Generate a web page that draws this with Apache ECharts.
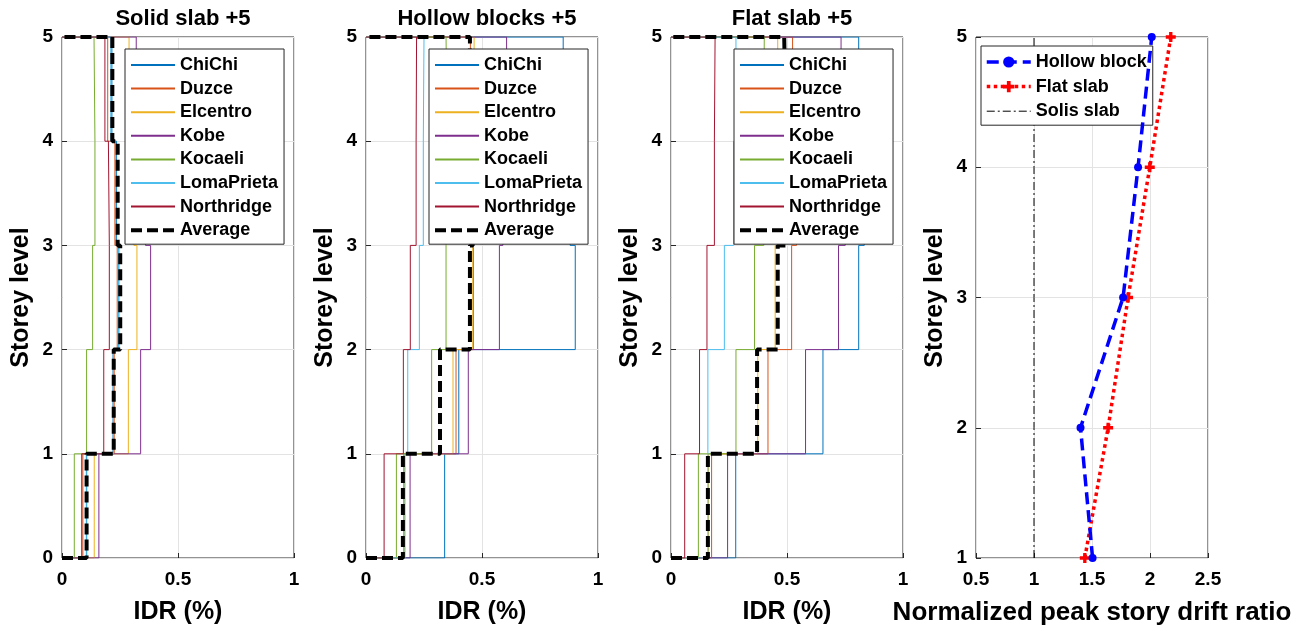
<!DOCTYPE html>
<html>
<head>
<meta charset="utf-8">
<script src="https://cdn.jsdelivr.net/npm/echarts@6/dist/echarts.min.js"></script>
<style>
  html, body { margin: 0; padding: 0; background: #fff; }
  #chart { width: 1312px; height: 631px; }
</style>
</head>
<body>
<div id="chart"></div>
<script>
var dom = document.getElementById("chart");
var myChart = echarts.init(dom);

// peak IDR (%) per storey, storeys 1..5
var records = ['ChiChi', 'Duzce', 'Elcentro', 'Kobe', 'Kocaeli', 'LomaPrieta', 'Northridge'];
var recordColors = ['#0072BD', '#D95319', '#EDB120', '#7E2F8E', '#77AC30', '#4DBEEE', '#A2142F'];
var panelTitles = ['Solid slab +5', 'Hollow blocks +5', 'Flat slab +5'];

var solidIdr = [
    [0.105, 0.220, 0.245, 0.235, 0.215],
    [0.090, 0.225, 0.238, 0.228, 0.197],
    [0.139, 0.286, 0.323, 0.310, 0.289],
    [0.159, 0.339, 0.382, 0.360, 0.320],
    [0.053, 0.106, 0.132, 0.142, 0.138],
    [0.107, 0.222, 0.243, 0.232, 0.210],
    [0.085, 0.180, 0.204, 0.200, 0.185]
];
var solidAverage = [0.106, 0.223, 0.251, 0.240, 0.217];

var hollowIdr = [
    [0.339, 0.400, 0.902, 0.880, 0.850],
    [0.163, 0.388, 0.463, 0.460, 0.450],
    [0.166, 0.375, 0.460, 0.465, 0.466],
    [0.190, 0.441, 0.575, 0.590, 0.606],
    [0.131, 0.283, 0.345, 0.350, 0.345],
    [0.168, 0.180, 0.230, 0.247, 0.250],
    [0.078, 0.161, 0.191, 0.216, 0.218]
];
var hollowAverage = [0.159, 0.319, 0.448, 0.460, 0.448];

var flatIdr = [
    [0.279, 0.655, 0.809, 0.833, 0.809],
    [0.175, 0.418, 0.520, 0.541, 0.524],
    [0.162, 0.374, 0.449, 0.480, 0.460],
    [0.244, 0.580, 0.722, 0.751, 0.733],
    [0.118, 0.280, 0.360, 0.400, 0.402],
    [0.159, 0.159, 0.230, 0.270, 0.280],
    [0.059, 0.123, 0.155, 0.187, 0.190]
];
var flatAverage = [0.159, 0.371, 0.460, 0.496, 0.488];

// normalized peak story drift ratio
var storeyLevels = [1, 2, 3, 4, 5];
var hollowRatio = [1.505, 1.401, 1.768, 1.897, 2.015];
var flatRatio = [1.438, 1.639, 1.811, 1.998, 2.179];
var solidRatio = [1, 1, 1, 1, 1];

var idrTicks = [0, 0.5, 1];
var ratioTicks = [0.5, 1, 1.5, 2, 2.5];

var font = 'Liberation Sans, Arial, sans-serif';
var ink = '#262626';

// stairs: horizontal run at each floor, vertical through each storey
function stairs(vals) {
    var pts = [[0, 0]];
    for (var i = 0; i < vals.length; i++) {
        pts.push([vals[i], i]);
        pts.push([vals[i], i + 1]);
    }
    pts.push([0, vals.length]);
    return pts;
}

var lefts = [62, 366, 671, 976];
var grids = [], xAxes = [], yAxes = [], series = [], titles = [], legends = [];

for (var g = 0; g < 4; g++) {
    grids.push({
        left: lefts[g], width: 232, top: 37, height: 521,
        show: true, borderColor: ink, borderWidth: 1, backgroundColor: '#fff'
    });
    var isRatio = g === 3;
    var tk = isRatio ? ratioTicks : idrTicks;
    xAxes.push({
        gridIndex: g, type: 'value',
        min: tk[0], max: tk[tk.length - 1], interval: tk[1] - tk[0],
        name: isRatio ? 'Normalized peak story drift ratio' : 'IDR (%)',
        nameLocation: 'middle', nameGap: 42,
        nameTextStyle: { fontFamily: font, fontWeight: 'bold', fontSize: isRatio ? 26 : 25, color: '#000' },
        axisLine: { show: false },
        axisTick: { show: true, inside: true, length: 5, lineStyle: { color: ink } },
        axisLabel: { fontFamily: font, fontWeight: 'bold', fontSize: 19, color: '#000', margin: 12 },
        splitLine: { show: true, lineStyle: { color: '#e3e3e3', width: 1 } }
    });
    yAxes.push({
        gridIndex: g, type: 'value',
        min: isRatio ? 1 : 0, max: 5, interval: 1,
        name: 'Storey level', nameLocation: 'middle', nameGap: 28, nameRotate: 90,
        nameTextStyle: { fontFamily: font, fontWeight: 'bold', fontSize: 25, color: '#000' },
        axisLine: { show: false },
        axisTick: { show: true, inside: true, length: 5, lineStyle: { color: ink } },
        axisLabel: { fontFamily: font, fontWeight: 'bold', fontSize: 19, color: '#000', margin: 9 },
        splitLine: { show: true, lineStyle: { color: '#e3e3e3', width: 1 } }
    });
}

var idrSets = [solidIdr, hollowIdr, flatIdr];
var avgSets = [solidAverage, hollowAverage, flatAverage];
for (var p = 0; p < 3; p++) {
    for (var r = 0; r < records.length; r++) {
        series.push({
            name: records[r], type: 'line', xAxisIndex: p, yAxisIndex: p,
            data: stairs(idrSets[p][r]), showSymbol: false, symbol: 'none',
            color: recordColors[r], lineStyle: { width: 1, color: recordColors[r] },
            animation: false, z: 2
        });
    }
    series.push({
        name: 'Average', type: 'line', xAxisIndex: p, yAxisIndex: p,
        data: stairs(avgSets[p]), showSymbol: false, symbol: 'none',
        color: '#000', lineStyle: { width: 4, color: '#000', type: [11, 5] },
        animation: false, z: 3
    });
    titles.push({
        text: panelTitles[p], left: lefts[p] + 116, top: 3, textAlign: 'center',
        textStyle: { fontFamily: font, fontWeight: 'bold', fontSize: 22, color: '#000' }
    });
    var items = records.map(function (n) { return { name: n }; });
    items.push({ name: 'Average', lineStyle: { width: 4, type: [11, 5] } });
    legends.push({
        data: items,
        orient: 'vertical', left: lefts[p] + 63, top: 49,
        itemWidth: 44, itemHeight: 14, itemGap: 5.6,
        padding: [7, 6, 5, 4],
        itemStyle: { opacity: 0 },
        backgroundColor: '#fff', borderColor: ink, borderWidth: 1,
        textStyle: { fontFamily: font, fontWeight: 'bold', fontSize: 18, lineHeight: 16, color: '#000' }
    });
}

function toPts(xs) {
    return xs.map(function (x, i) { return [x, storeyLevels[i]]; });
}

series.push({
    name: 'Hollow block', type: 'line', xAxisIndex: 3, yAxisIndex: 3,
    data: toPts(hollowRatio), symbol: 'circle', symbolSize: 8,
    color: '#0000ff', lineStyle: { width: 3.5, color: '#0000ff', type: [12, 6] },
    itemStyle: { color: '#0000ff' }, animation: false, z: 4
});
series.push({
    name: 'Flat slab', type: 'line', xAxisIndex: 3, yAxisIndex: 3,
    data: toPts(flatRatio), symbol: 'path://M3,0H6V3H9V6H6V9H3V6H0V3H3Z', symbolSize: 10,
    color: '#ff0000', lineStyle: { width: 3.5, color: '#ff0000', type: [3.5, 3.5] },
    itemStyle: { color: '#ff0000' }, animation: false, z: 3
});
series.push({
    name: 'Solis slab', type: 'line', xAxisIndex: 3, yAxisIndex: 3,
    data: toPts(solidRatio), showSymbol: false, symbol: 'none',
    color: '#000', lineStyle: { width: 1, color: '#000', type: [8, 3, 2, 3] },
    animation: false, z: 2
});
legends.push({
    data: [
        { name: 'Hollow block', lineStyle: { width: 3.5, type: [12, 6] } },
        { name: 'Flat slab', lineStyle: { width: 3.5, type: [3.5, 3.5] } },
        { name: 'Solis slab', itemStyle: { opacity: 0 }, lineStyle: { width: 1, type: [8, 3, 2, 3] } }
    ],
    orient: 'vertical', left: 981, top: 46,
    itemWidth: 44, itemHeight: 14, itemGap: 6.6,
    padding: [7, 6, 5, 4],
    backgroundColor: '#fff', borderColor: ink, borderWidth: 1,
    textStyle: { fontFamily: font, fontWeight: 'bold', fontSize: 18, lineHeight: 16, color: '#000' }
});

var option = {
    backgroundColor: '#fff',
    animation: false,
    title: titles,
    legend: legends,
    grid: grids,
    xAxis: xAxes,
    yAxis: yAxes,
    series: series
};

if (option && typeof option === 'object') {
    myChart.setOption(option);
}
</script>
</body>
</html>
